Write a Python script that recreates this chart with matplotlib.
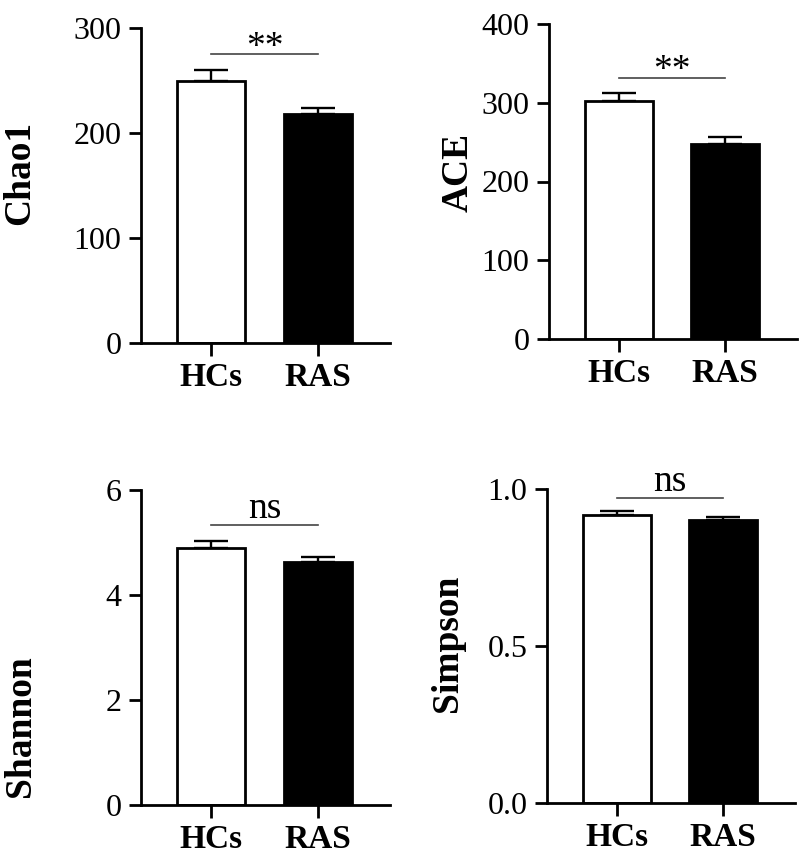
import matplotlib
matplotlib.use("Agg")
from matplotlib import pyplot as plt

groups = ["HCs", "RAS"]

chao1_mean = [250, 218]
chao1_sem = [10, 6]
ace_mean = [302, 248]
ace_sem = [11, 8]
shannon_mean = [4.90, 4.63]
shannon_sem = [0.13, 0.09]
simpson_mean = [0.917, 0.901]
simpson_sem = [0.012, 0.009]

chao1_ticks = [0, 100, 200, 300]
ace_ticks = [0, 100, 200, 300, 400]
shannon_ticks = [0, 2, 4, 6]
simpson_ticks = [0.0, 0.5, 1.0]

# significance: (label, bracket height)
chao1_sig = ("**", 275)
ace_sig = ("**", 332)
shannon_sig = ("ns", 5.33)
simpson_sig = ("ns", 0.971)

plt.rcParams['font.family'] = ['Liberation Serif', 'DejaVu Serif']

W, H = 800, 858
fig = plt.figure(figsize=(W / 100, H / 100), dpi=100)


def px_rect(left, right, top, bottom):
  return [left / W, 1 - bottom / H, (right - left) / W, (bottom - top) / H]


def panel(rect, means, sems, ticks, fmt, ylabel, sig, label_xy):
  ax = fig.add_axes(rect)
  x = range(len(groups))
  ax.bar(x, means, width=0.64, color=["white", "black"], edgecolor="black",
         linewidth=2.0, zorder=2)
  ax.errorbar(x, means, yerr=[[0] * len(sems), sems], fmt="none", ecolor="black",
              elinewidth=1.7, capsize=12.5, capthick=1.7, zorder=1)
  ax.set_xlim(-0.66, 1.68)
  ax.set_ylim(ticks[0], ticks[-1])
  ax.set_yticks(ticks)
  ax.set_yticklabels([fmt.format(t) for t in ticks])
  ax.set_xticks(list(x))
  ax.set_xticklabels(groups, fontweight="bold", fontsize=24)
  for s in ["top", "right"]:
    ax.spines[s].set_visible(False)
  for s in ["left", "bottom"]:
    ax.spines[s].set_linewidth(2.0)
  ax.tick_params(axis="y", length=9, width=2.0, labelsize=23, pad=5)
  ax.tick_params(axis="x", length=9, width=2.0, pad=5)
  ax.set_ylabel(ylabel, fontsize=27, fontweight="bold")
  ax.yaxis.set_label_coords(*label_xy)

  text, h = sig
  ax.plot([0, 1], [h, h], color="#444444", linewidth=1.2, clip_on=False)
  off = -2 if text == "**" else 5
  ax.annotate(text, xy=(0.5, h), xytext=(0, off), textcoords="offset points",
              ha="center", va="baseline", fontsize=27, annotation_clip=False)
  return ax


panel(px_rect(141, 390, 28, 343), chao1_mean, chao1_sem, chao1_ticks, "{:.0f}",
      "Chao1", chao1_sig, (-0.418, 0.54))
panel(px_rect(549, 797, 24, 339), ace_mean, ace_sem, ace_ticks, "{:.0f}",
      "ACE", ace_sig, (-0.296, 0.53))
panel(px_rect(141, 390, 490, 805), shannon_mean, shannon_sem, shannon_ticks, "{:.0f}",
      "Shannon", shannon_sig, (-0.414, 0.25))
panel(px_rect(547, 795, 489, 803), simpson_mean, simpson_sem, simpson_ticks, "{:.1f}",
      "Simpson", simpson_sig, (-0.33, 0.51))

fig.savefig("out.png", dpi=100)
